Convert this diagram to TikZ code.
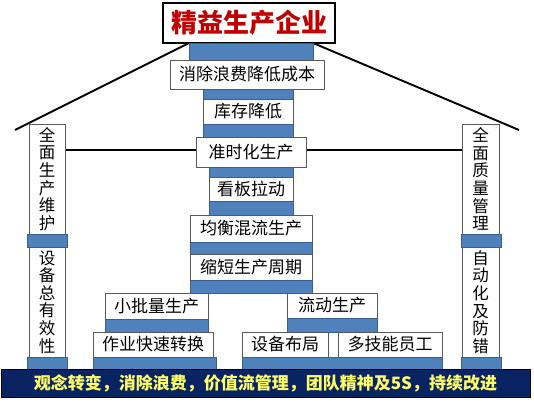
\documentclass[tikz,border=0pt]{standalone}
\usepackage{fontspec}
\setmainfont{Noto Sans CJK SC}
\usetikzlibrary{backgrounds}
\definecolor{barblue}{HTML}{4F81BD}
\definecolor{barline}{HTML}{3A5F8B}
\definecolor{navy}{HTML}{0A2463}
\definecolor{ylw}{HTML}{FFFF66}
\definecolor{titlered}{HTML}{C00000}
\newcommand\bx[7]{\node[#1, minimum width={(#5-#3)*1pt}, minimum height={(#6-#4)*1pt}] (#2) at ({(#3+#5)/2},{(#4+#6)/2}) {#7};}
\begin{document}
\begin{tikzpicture}[x=1pt,y=-1pt,
  every node/.style={inner sep=0pt, outer sep=0pt},
  wbox/.style={draw=black!65, line width=0.6pt, fill=white, font=\fontsize{17}{19}\selectfont},
  bbar/.style={draw=barline, line width=0.6pt, fill=barblue},
  pillar/.style={draw=black!65, line width=0.6pt, fill=white, align=center, font=\fontsize{16.5}{17.6}\selectfont},
  titlebox/.style={draw=black, line width=1.6pt, fill=white, text=titlered, font=\fontsize{26}{28}\selectfont\bfseries},
  basebox/.style={draw=black, line width=1pt, fill=navy, text=ylw, font=\fontsize{17}{19}\selectfont\bfseries},
  roof/.style={draw=black, line width=1.9pt},
  beam/.style={draw=black, line width=2pt}]
\useasboundingbox (0,0) rectangle (534,406);
% central stack
\bx{titlebox}{title}{163}{3}{335}{43}{精益生产企业}
\bx{bbar}{b1}{189}{43}{313}{60}{}
\bx{wbox}{n1}{170}{60}{324}{89}{消除浪费降低成本}
\bx{bbar}{b2}{203}{89}{293}{99}{}
\bx{wbox}{n2}{203}{99}{293}{124}{库存降低}
\bx{bbar}{b3}{203}{124}{293}{137}{}
\bx{wbox}{n3}{196}{137}{306}{167}{准时化生产}
\bx{bbar}{b4}{209}{167}{293}{177}{}
\bx{wbox}{n4}{209}{177}{293}{201}{看板拉动}
\bx{bbar}{b5}{209}{201}{293}{215}{}
\bx{wbox}{n5}{190}{215}{312}{242}{均衡混流生产}
\bx{bbar}{b6}{190}{242}{312}{254}{}
\bx{wbox}{n6}{190}{254}{312}{280}{缩短生产周期}
\bx{bbar}{b7}{190}{280}{312}{293}{}
% left branch
\bx{wbox}{n7}{105}{293}{208}{319}{小批量生产}
\bx{bbar}{b8}{105}{319}{208}{332}{}
\bx{wbox}{n8}{93}{332}{213}{357}{作业快速转换}
\bx{bbar}{b9}{93}{357}{216}{370}{}
% right branch
\bx{wbox}{n9}{287}{293}{377}{318}{流动生产}
\bx{bbar}{b10}{287}{318}{377}{332}{}
\bx{wbox}{n10}{242}{332}{328}{357}{设备布局}
\bx{wbox}{n11}{338}{332}{442}{357}{多技能员工}
\bx{bbar}{b11}{242}{357}{442}{370}{}
% left pillar
\bx{pillar}{p1}{29}{124}{65}{234}{全\\面\\生\\产\\维\\护}
\bx{bbar}{pb1}{27}{234}{67}{247}{}
\bx{pillar}{p2}{29}{247}{65}{357}{设\\备\\总\\有\\效\\性}
\bx{bbar}{pb2}{27}{357}{67}{370}{}
% right pillar
\bx{pillar}{q1}{462}{124}{499}{234}{全\\面\\质\\量\\管\\理}
\bx{bbar}{qb1}{461}{234}{501}{247}{}
\bx{pillar}{q2}{462}{247}{499}{357}{自\\动\\化\\及\\防\\错}
\bx{bbar}{qb2}{461}{357}{501}{370}{}
% base
\bx{basebox}{base}{1}{369}{530}{397}{观念转变，消除浪费，价值流管理，团队精神及5S，持续改进}
% connectors behind
\coordinate (rl) at (15,130);
\coordinate (rr) at (519,130);
\coordinate (hl) at (0,150);
\begin{pgfonlayer}{background}
\fill[white] (0,0) rectangle (534,406);
\draw[roof] (rl) -- (b1.north west);
\draw[roof] (b1.north east) -- (rr);
\draw[beam] (p1.east |- hl) -- (n3.west |- hl);
\draw[beam] (n3.east |- hl) -- (q1.west |- hl);
\end{pgfonlayer}
\end{tikzpicture}
\end{document}
